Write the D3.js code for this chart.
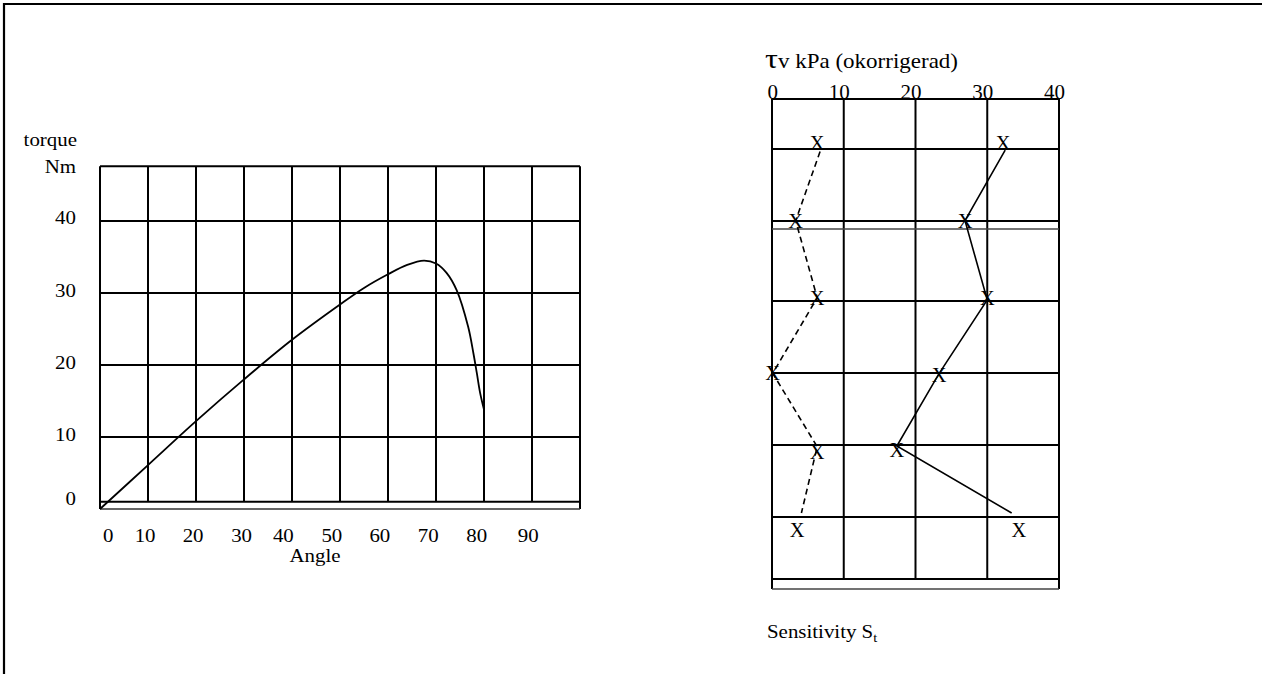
<!DOCTYPE html>
<html><head><meta charset="utf-8">
<script src="https://cdn.jsdelivr.net/npm/d3@7"></script>
<style>
body{margin:0;background:#fff}
svg{display:block}
text{font-family:"Liberation Serif","Times New Roman",serif;fill:#000}
</style>
</head><body>
<svg id="c" width="1262" height="674"></svg>
<script>
// ---------------- data ----------------
// Left chart: torque (Nm) vs angle (deg)
const curveAngle  = [0, 10, 20, 30, 40, 50, 55, 60, 64, 67.5, 70, 72.2, 74.3, 76.7, 77.8, 78.5, 79.2, 80];
const curveTorque = [0, 6.1, 12.2, 18.0, 23.5, 28.4, 30.7, 32.6, 33.9, 34.5, 34.1, 32.8, 30.4, 25.3, 21.6, 18.9, 16.1, 13.8];
const angleTicks   = [0, 10, 20, 30, 40, 50, 60, 70, 80, 90];
const angleTickAt  = [1.7, 9.4, 19.4, 29.5, 38.2, 48.3, 58.3, 68.4, 78.5, 89.2];
const torqueTicks  = [0, 10, 20, 30, 40];
const torqueTickAt = [1.5, 10.4, 20.3, 30.3, 40.5];
const angleGrid    = [0, 10, 20, 30, 40, 50, 60, 70, 80, 90, 100];
const torqueGrid   = [47.6, 40, 30, 20, 10, 1, 0];

// Right chart: shear strength tau_v (kPa) profile
const tauTicks   = [0, 10, 20, 30, 40];
const depthGrid  = [0, 0.694, 1.694, 1.806, 2.806, 3.806, 4.806, 5.806, 6.667, 6.806];
const dashDepth  = [0.73, 1.69, 2.76, 3.81, 4.83, 5.75];
const dashTau    = [6.7, 3.3, 6.3, 0.1, 6.3, 4.1];
const solidDepth = [0.71, 1.69, 2.79, 3.81, 4.82, 5.75];
const solidTau   = [32.5, 26.9, 30.0, 23.3, 17.4, 33.4];
const markDashDepth  = [0.61, 1.69, 2.76, 3.81, 4.90, 5.99];
const markDashTau    = [6.3, 3.3, 6.3, 0.1, 6.3, 3.5];
const markSolidDepth = [0.61, 1.69, 2.76, 3.83, 4.88, 5.99];
const markSolidTau   = [32.2, 26.9, 30.0, 23.3, 17.4, 34.4];

// ---------------- drawing ----------------
const svg = d3.select("#c");
const SX = 1.1; // horizontal stretch of the typeset text
function stext(x, y, str, anchor, size, sx) {
  return svg.append("text")
    .attr("transform", `translate(${x},${y}) scale(${sx || SX},1)`)
    .attr("text-anchor", anchor || "start")
    .attr("font-size", size || 19)
    .text(str);
}

// outer frame (top and left edges)
svg.append("path").attr("d", "M4,680 L4,4 L1270,4")
  .attr("fill", "none").attr("stroke", "#000").attr("stroke-width", 2.2);

// ---- left chart ----
const xA = d3.scaleLinear().domain([0, 100]).range([100, 580]);
const yT = d3.scaleLinear().domain([0, 50]).range([509, 149]);
const gL = svg.append("g");
angleGrid.forEach((a, i) => {
  const outer = (i === 0 || i === angleGrid.length - 1);
  gL.append("line").attr("x1", xA(a)).attr("x2", xA(a))
    .attr("y1", yT(47.6)).attr("y2", outer ? yT(0) : yT(1))
    .attr("stroke", "#000").attr("stroke-width", 2);
});
torqueGrid.forEach(t => {
  gL.append("line").attr("x1", xA(0)).attr("x2", xA(100))
    .attr("y1", yT(t)).attr("y2", yT(t))
    .attr("stroke", t === 0 ? "#333" : "#000").attr("stroke-width", t === 0 ? 1.6 : 2);
});
const curveLine = d3.line().x(d => xA(d[0])).y(d => yT(d[1])).curve(d3.curveCatmullRom.alpha(0.5));
gL.append("path").datum(curveAngle.map((a, i) => [a, curveTorque[i]]))
  .attr("d", curveLine).attr("fill", "none").attr("stroke", "#000").attr("stroke-width", 1.8);

angleTicks.forEach((v, i) => stext(xA(angleTickAt[i]), 542, String(v), "middle"));
torqueTicks.forEach((v, i) => stext(76, yT(torqueTickAt[i]) + 6.5, String(v), "end"));
stext(315, 562, "Angle", "middle");
stext(77, 146, "torque", "end");
stext(76, 173, "Nm", "end");

// ---- right chart ----
const xTau = d3.scaleLinear().domain([0, 40]).range([772, 1059]);
const yD = d3.scaleLinear().domain([0, 7]).range([99, 603]);
const gR = svg.append("g");
tauTicks.forEach((t, i) => {
  const outer = (i === 0 || i === tauTicks.length - 1);
  gR.append("line").attr("x1", xTau(t)).attr("x2", xTau(t))
    .attr("y1", yD(0)).attr("y2", outer ? yD(6.806) : yD(6.667))
    .attr("stroke", "#000").attr("stroke-width", 2);
});
depthGrid.forEach(d => {
  const thin = (d === 1.806 || d === 6.806);
  gR.append("line").attr("x1", xTau(0)).attr("x2", xTau(40))
    .attr("y1", yD(d)).attr("y2", yD(d))
    .attr("stroke", thin ? "#444" : "#000").attr("stroke-width", thin ? 1.5 : 2);
});
const profLine = d3.line().x(d => xTau(d[0])).y(d => yD(d[1]));
gR.append("path").datum(dashTau.map((t, i) => [t, dashDepth[i]]))
  .attr("d", profLine).attr("fill", "none").attr("stroke", "#000")
  .attr("stroke-width", 1.6).attr("stroke-dasharray", "6,4");
gR.append("path").datum(solidTau.map((t, i) => [t, solidDepth[i]]))
  .attr("d", profLine).attr("fill", "none").attr("stroke", "#000").attr("stroke-width", 1.6);
markDashTau.forEach((t, i) => stext(xTau(t), yD(markDashDepth[i]) + 7, "X", "middle", 20, 1.02));
markSolidTau.forEach((t, i) => stext(xTau(t), yD(markSolidDepth[i]) + 7, "X", "middle", 20, 1.02));

tauTicks.forEach(t => stext(xTau(t) + 6, 99, String(t), "end", 21, 1.0));

const title = svg.append("text")
  .attr("transform", "translate(765,68) scale(1.15,1)")
  .attr("font-size", 20);
title.append("tspan").attr("font-size", 28).text("τ");
title.append("tspan").text("v kPa (okorrigerad)");

const sens = svg.append("text")
  .attr("transform", "translate(767,638) scale(1.1,1)")
  .attr("font-size", 19);
sens.append("tspan").text("Sensitivity S");
sens.append("tspan").attr("font-size", 13).attr("dy", 4).text("t");
</script>
</body></html>
